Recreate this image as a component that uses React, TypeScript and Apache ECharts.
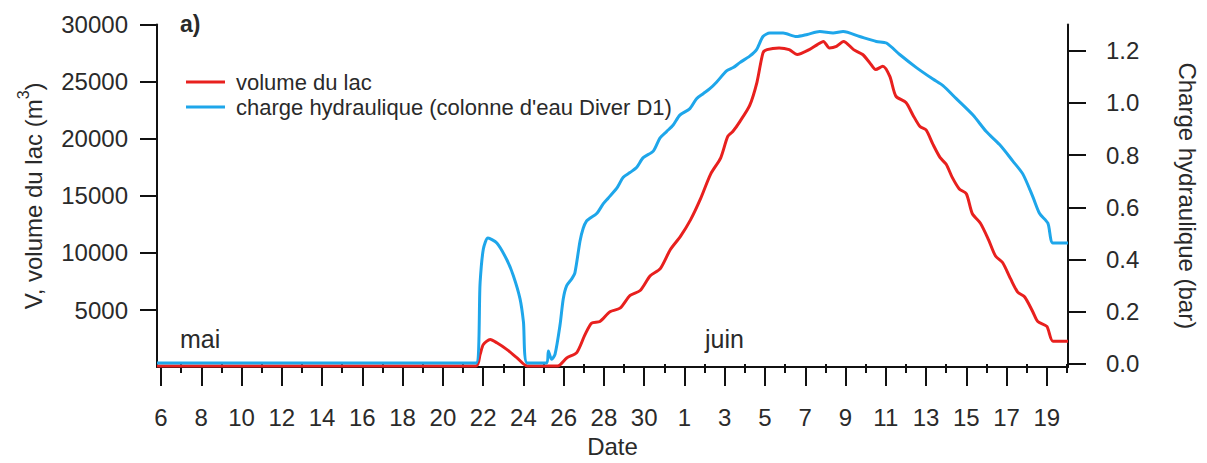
import React, { useEffect, useRef } from "react";
import * as echarts from "echarts";

// Day index: May d -> d ; June d -> 31 + d
const volumeDays = [5.8, 21.65, 21.85, 22.01, 22.35, 22.68, 23.17, 23.67, 24.19, 25.7, 26.15, 26.65, 27.06, 27.39, 27.8, 28.3, 28.8, 29.3, 29.8, 30.3, 30.8, 31.3, 31.8, 32.3, 32.8, 33.3, 33.8, 34.15, 34.4, 34.75, 35.24, 35.6, 35.9, 36.1, 36.7, 37.2, 37.6, 38.2, 38.6, 38.9, 39.2, 39.55, 39.9, 40.4, 40.85, 41.2, 41.5, 41.85, 42.2, 42.5, 43.0, 43.35, 43.7, 44.0, 44.35, 44.7, 45.0, 45.3, 45.65, 46.0, 46.3, 46.7, 47.1, 47.45, 47.8, 48.2, 48.55, 48.9, 49.3, 49.55, 50.0, 50.3, 51.05];
const volumeValues = [100, 100, 1120, 1980, 2410, 2130, 1550, 830, 100, 100, 800, 1270, 2840, 3850, 4000, 4850, 5160, 6280, 6710, 8000, 8630, 10300, 11450, 12890, 14750, 16900, 18330, 20200, 20630, 21500, 22920, 24940, 27520, 27800, 27950, 27800, 27370, 27800, 28240, 28520, 27950, 28090, 28520, 27800, 27370, 26660, 26060, 26340, 25450, 23730, 23160, 22060, 21060, 20770, 19480, 18340, 17760, 16610, 15600, 15180, 13430, 12600, 11170, 9730, 9160, 7720, 6570, 6140, 4850, 3990, 3560, 2270, 2270];

const chargeDays = [5.8, 21.65, 21.85, 22.01, 22.24, 22.68, 23.17, 23.5, 23.83, 24.0, 24.19, 25.16, 25.24, 25.4, 25.57, 25.82, 25.98, 26.15, 26.4, 26.56, 26.81, 26.97, 27.14, 27.3, 27.64, 27.97, 28.21, 28.63, 28.96, 29.29, 29.62, 29.95, 30.45, 30.78, 31.11, 31.44, 31.77, 32.27, 32.6, 32.93, 33.26, 33.59, 34.09, 34.42, 34.75, 35.24, 35.58, 35.9, 36.24, 36.9, 37.56, 38.1, 38.72, 39.38, 39.88, 40.7, 41.53, 42.03, 42.69, 43.52, 44.34, 44.84, 45.5, 46.33, 46.99, 47.65, 48.31, 48.81, 49.31, 49.64, 50.05, 50.3, 51.05];
const chargeValues = [0.004, 0.004, 0.313, 0.44, 0.482, 0.463, 0.40, 0.338, 0.25, 0.162, 0.004, 0.004, 0.05, 0.018, 0.037, 0.15, 0.25, 0.30, 0.326, 0.35, 0.47, 0.52, 0.548, 0.558, 0.576, 0.614, 0.635, 0.672, 0.715, 0.733, 0.752, 0.79, 0.815, 0.865, 0.89, 0.915, 0.953, 0.978, 1.016, 1.035, 1.054, 1.079, 1.122, 1.135, 1.154, 1.179, 1.204, 1.254, 1.267, 1.267, 1.254, 1.262, 1.273, 1.267, 1.273, 1.254, 1.235, 1.229, 1.185, 1.135, 1.091, 1.066, 1.016, 0.953, 0.89, 0.84, 0.777, 0.727, 0.639, 0.576, 0.539, 0.463, 0.463];

const majorDayTicks = [6, 8, 10, 12, 14, 16, 18, 20, 22, 24, 26, 28, 30, 32, 34, 36, 38, 40, 42, 44, 46, 48, 50];
const minorDayTicks = [7, 9, 11, 13, 15, 17, 19, 21, 23, 25, 27, 29, 31, 33, 35, 37, 39, 41, 43, 45, 47, 49, 51];
const volumeTicks = [5000, 10000, 15000, 20000, 25000, 30000];
const chargeTicks = [0, 0.2, 0.4, 0.6, 0.8, 1.0, 1.2];

const seriesNames = ["volume du lac", "charge hydraulique (colonne d'eau Diver D1)"];
const monthLabels = ["mai", "juin"];

const FONT = "Liberation Sans, Arial, sans-serif";
const TXT = "#2a2a2a";
const AX = "#111";
const RED = "#e8201e";
const BLUE = "#1ea6ea";

export default function App() {
  const ref = useRef<HTMLDivElement>(null);
  useEffect(() => {
    document.body.style.margin = "0";
    const chart = echarts.init(ref.current!, null, { renderer: "svg" });
    const xMin = 5.8;
    const xMax = 51.05;
    const axisLineStyle = { color: AX, width: 2 };
    chart.setOption({
      animation: false,
      textStyle: { fontFamily: FONT },
      grid: { left: 157, right: 139, top: 24.5, bottom: 90, containLabel: false },
      legend: {
        orient: "vertical",
        left: 181,
        top: 66,
        icon: "rect",
        itemWidth: 39,
        itemHeight: 3,
        itemGap: 3,
        data: seriesNames,
        textStyle: { fontSize: 22, color: TXT, fontFamily: FONT, lineHeight: 22, padding: [0, 0, 0, 6] },
      },
      xAxis: [
        {
          type: "value",
          min: xMin,
          max: xMax,
          name: "Date",
          nameLocation: "middle",
          nameGap: 64,
          nameTextStyle: { fontSize: 24, color: TXT, fontFamily: FONT },
          axisLine: { show: true, lineStyle: axisLineStyle },
          axisTick: { show: true, length: 19, inside: false, lineStyle: axisLineStyle, customValues: majorDayTicks },
          axisLabel: {
            show: true,
            margin: 38,
            fontSize: 24,
            color: TXT,
            fontFamily: FONT,
            customValues: majorDayTicks,
            formatter: (v: number) => String(v <= 31 ? v : v - 31),
          },
          splitLine: { show: false },
        },
        {
          type: "value",
          min: xMin,
          max: xMax,
          position: "bottom",
          axisLine: { show: false },
          axisTick: { show: true, length: 9, inside: false, lineStyle: axisLineStyle, customValues: minorDayTicks },
          axisLabel: { show: false },
          splitLine: { show: false },
        },
      ],
      yAxis: [
        {
          type: "value",
          min: 0,
          max: 30000,
          position: "left",
          name: "{m|V, volume du lac (m}{s|3}{m|)}",
          nameLocation: "middle",
          nameGap: 112,
          nameRotate: 90,
          nameTextStyle: {
            color: TXT,
            fontFamily: FONT,
            rich: {
              m: { fontSize: 24, color: TXT, fontFamily: FONT, lineHeight: 30, verticalAlign: "bottom" },
              s: { fontSize: 16, color: TXT, fontFamily: FONT, lineHeight: 16, verticalAlign: "top" },
            },
          },
          axisLine: { show: true, lineStyle: axisLineStyle },
          axisTick: { show: true, length: 17, inside: false, lineStyle: axisLineStyle, customValues: volumeTicks },
          axisLabel: {
            margin: 29,
            fontSize: 24,
            color: TXT,
            fontFamily: FONT,
            customValues: volumeTicks,
            formatter: (v: number) => String(v),
          },
          splitLine: { show: false },
        },
        {
          type: "value",
          min: -0.012,
          max: 1.3,
          position: "right",
          name: "Charge hydraulique (bar)",
          nameLocation: "middle",
          nameGap: 107,
          nameRotate: -90,
          nameTextStyle: { fontSize: 24, color: TXT, fontFamily: FONT },
          axisLine: { show: true, lineStyle: axisLineStyle },
          axisTick: { show: true, length: 18, inside: false, lineStyle: axisLineStyle, customValues: chargeTicks },
          axisLabel: {
            margin: 38,
            fontSize: 24,
            color: TXT,
            fontFamily: FONT,
            customValues: chargeTicks,
            formatter: (v: number) => v.toFixed(1),
          },
          splitLine: { show: false },
        },
      ],
      graphic: [
        { type: "text", left: 180, top: 12, style: { text: "a)", fill: TXT, font: `bold 23px ${FONT}` } },
        { type: "text", left: 180, top: 326, style: { text: monthLabels[0], fill: TXT, font: `25px ${FONT}` } },
        { type: "text", left: 705, top: 326, style: { text: monthLabels[1], fill: TXT, font: `25px ${FONT}` } },
      ],
      series: [
        {
          name: seriesNames[0],
          type: "line",
          xAxisIndex: 0,
          yAxisIndex: 0,
          symbol: "none",
          smooth: 0.25,
          lineStyle: { color: RED, width: 3 },
          itemStyle: { color: RED },
          data: volumeDays.map((d, i) => [d, volumeValues[i]]),
        },
        {
          name: seriesNames[1],
          type: "line",
          xAxisIndex: 0,
          yAxisIndex: 1,
          symbol: "none",
          smooth: 0.25,
          lineStyle: { color: BLUE, width: 3 },
          itemStyle: { color: BLUE },
          data: chargeDays.map((d, i) => [d, chargeValues[i]]),
        },
      ],
    });
    return () => chart.dispose();
  }, []);
  return <div ref={ref} style={{ width: 1207, height: 463 }} />;
}
